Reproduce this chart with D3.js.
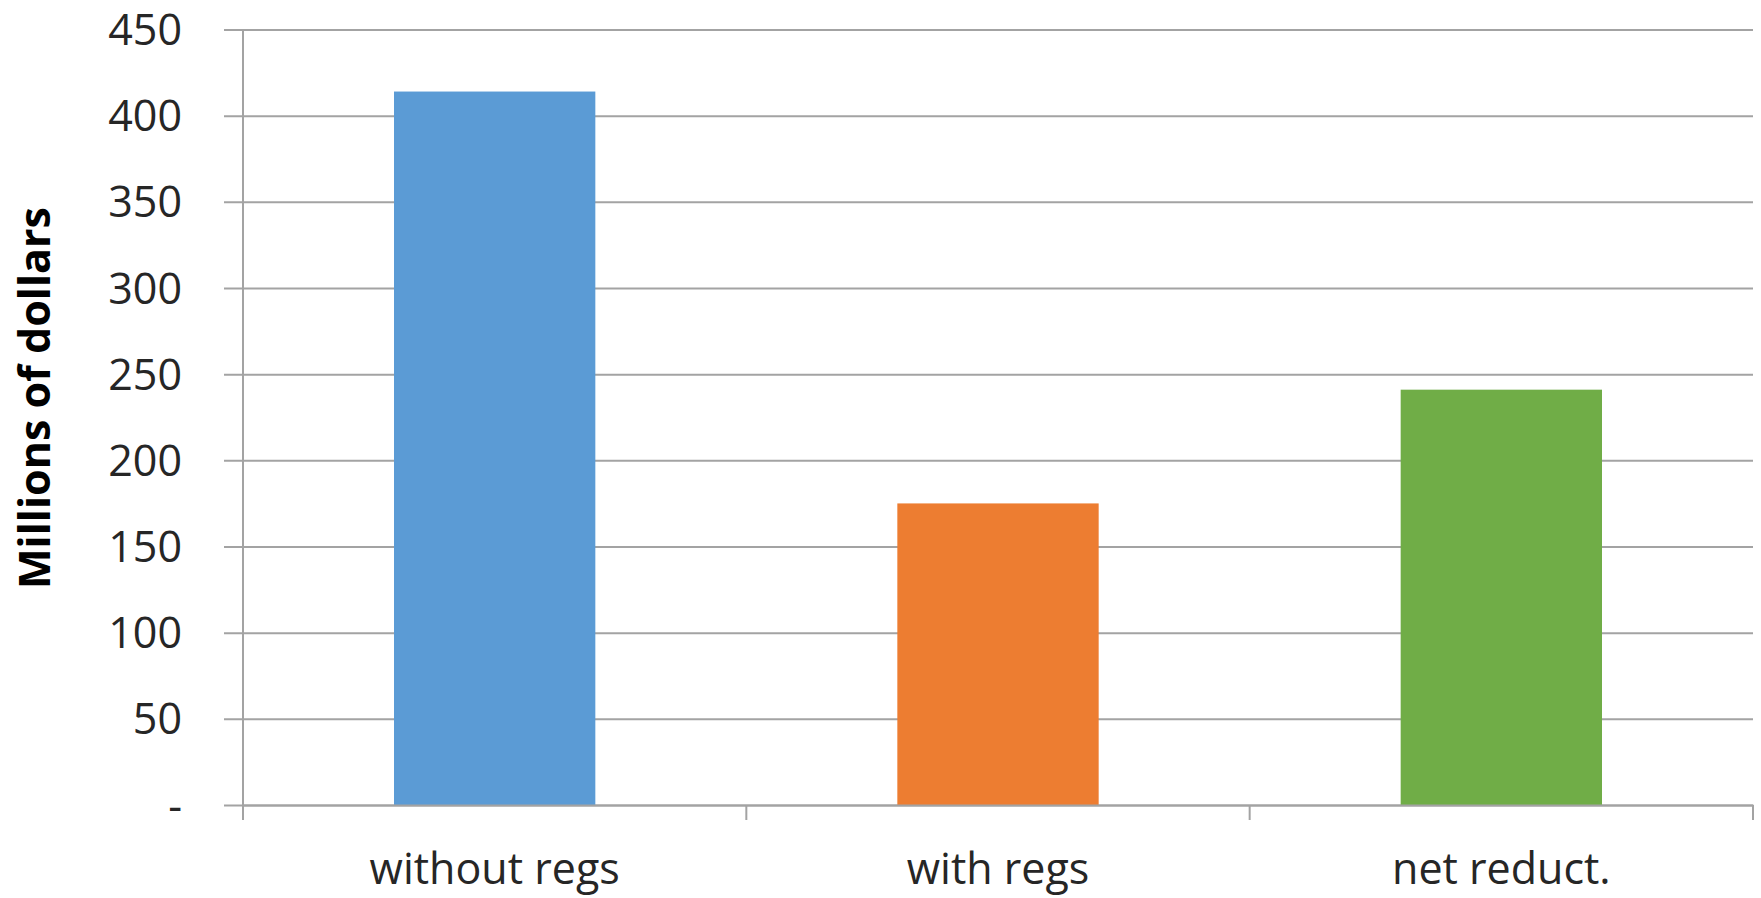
<!DOCTYPE html>
<html>
<head>
<meta charset="utf-8">
<script src="https://cdn.jsdelivr.net/npm/d3@7"></script>
<style>
  html, body { margin: 0; padding: 0; background: #fff; }
  svg { display: block; }
</style>
</head>
<body>
<svg id="chart" width="1761" height="898"></svg>
<script>
// Cost comparison, millions of dollars
const categories = ["without regs", "with regs", "net reduct."];
const values = [414, 175, 241];
const barColors = ["#5B9BD5", "#ED7D31", "#70AD47"];
const yTicks = [0, 50, 100, 150, 200, 250, 300, 350, 400, 450];
const yTickLabels = ["-", "50", "100", "150", "200", "250", "300", "350", "400", "450"];
const yTitle = "Millions of dollars";

const svg = d3.select("#chart");
const margin = { left: 243, right: 8, top: 29.5, bottom: 93 };
const W = 1761, H = 898;

const x = d3.scaleBand()
  .domain(categories)
  .range([margin.left, W - margin.right])
  .paddingInner(0.6)
  .paddingOuter(0.3);

const y = d3.scaleLinear()
  .domain([0, 450])
  .range([H - margin.bottom, margin.top]);

const gridColor = "#a3a3a3";
const font = "'Open Sans', 'Liberation Sans', sans-serif";

// horizontal gridlines with short tick stubs left of the axis
const yAxis = d3.axisLeft(y)
  .tickValues(yTicks)
  .tickSize(-(W - margin.right - margin.left))
  .tickSizeOuter(0)
  .tickFormat((d, i) => yTickLabels[i]);

const gy = svg.append("g")
  .attr("transform", `translate(${margin.left},0)`)
  .call(yAxis);
gy.select(".domain").remove();
gy.selectAll(".tick line")
  .attr("x1", -19)
  .attr("stroke", gridColor)
  .attr("stroke-width", 2);
gy.selectAll(".tick text")
  .attr("x", -61)
  .attr("dy", "0.35em")
  .attr("fill", "#262626")
  .style("font-family", font)
  .style("font-size", "43px");

// bars
svg.append("g")
  .selectAll("rect")
  .data(categories)
  .join("rect")
  .attr("x", d => x(d))
  .attr("width", x.bandwidth())
  .attr("y", (d, i) => y(values[i]))
  .attr("height", (d, i) => y(0) - y(values[i]))
  .attr("fill", (d, i) => barColors[i]);

// vertical axis line
svg.append("line")
  .attr("x1", margin.left).attr("x2", margin.left)
  .attr("y1", y(450)).attr("y2", y(0) + 15)
  .attr("stroke", gridColor).attr("stroke-width", 2);

// category axis
const xAxis = d3.axisBottom(x).tickSize(0).tickSizeOuter(0);
const gx = svg.append("g")
  .attr("transform", `translate(0,${y(0)})`)
  .call(xAxis);
gx.select(".domain")
  .attr("stroke", gridColor)
  .attr("stroke-width", 2);
gx.selectAll(".tick text")
  .attr("y", 79)
  .attr("dy", 0)
  .attr("fill", "#262626")
  .style("font-family", font)
  .style("font-size", "43px");

// separators between categories
svg.append("g")
  .selectAll("line")
  .data(categories)
  .join("line")
  .attr("x1", (d, i) => margin.left + (i + 1) * (W - margin.right - margin.left) / categories.length)
  .attr("x2", (d, i) => margin.left + (i + 1) * (W - margin.right - margin.left) / categories.length)
  .attr("y1", y(0))
  .attr("y2", y(0) + 15)
  .attr("stroke", gridColor)
  .attr("stroke-width", 2);

// y title
svg.append("text")
  .attr("transform", `translate(50,${398}) rotate(-90)`)
  .attr("text-anchor", "middle")
  .attr("fill", "#000")
  .style("font-family", font)
  .style("font-weight", "bold")
  .style("font-size", "43px")
  .text(yTitle);
</script>
</body>
</html>
